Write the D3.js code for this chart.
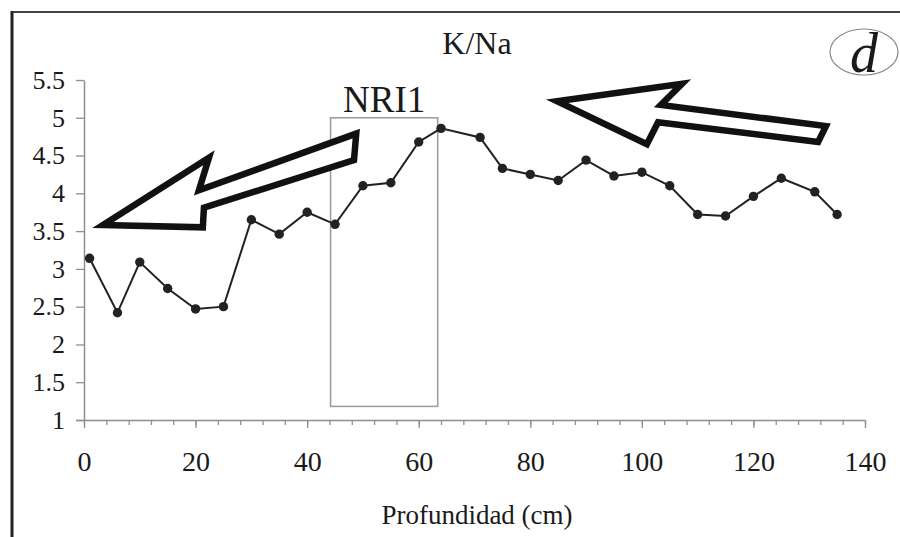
<!DOCTYPE html>
<html>
<head>
<meta charset="utf-8">
<script src="https://cdn.jsdelivr.net/npm/d3@7"></script>
<style>
  body { margin: 0; background: #fff; }
  text { font-family: "Liberation Serif", "DejaVu Serif", serif; fill: #1a1a1a; }
</style>
</head>
<body>
<div id="chart"></div>
<script>
// Depth (cm) and K/Na ratio
const depth = [1, 6, 10, 15, 20, 25, 30, 35, 40, 45, 50, 55, 60, 64, 71, 75, 80, 85, 90, 95, 100, 105, 110, 115, 120, 125, 131, 135];
const kna   = [3.14, 2.42, 3.09, 2.74, 2.47, 2.50, 3.65, 3.46, 3.75, 3.59, 4.10, 4.14, 4.68, 4.86, 4.74, 4.33, 4.25, 4.17, 4.44, 4.23, 4.28, 4.10, 3.72, 3.70, 3.96, 4.20, 4.02, 3.72];

const xTicks = [0, 20, 40, 60, 80, 100, 120, 140];
const yTicks = [1, 1.5, 2, 2.5, 3, 3.5, 4, 4.5, 5, 5.5];

// NRI1 box, in data units
const nriBox = [44.2, 63.4, 1.18, 5.0];

// hollow arrows, vertices in data units (depth, K/Na)
const arrowLeft  = [[3.4, 3.58], [22.4, 4.47], [20.6, 4.04], [48.8, 4.79], [48.4, 4.44], [21.5, 3.81], [21.3, 3.55]];
const arrowRight = [[84.8, 5.22], [107.2, 5.45], [103.4, 5.17], [133.0, 4.89], [131.6, 4.68], [102.9, 4.94], [100.9, 4.65]];

const width = 900, height = 537;

const svg = d3.select("#chart").append("svg")
    .attr("width", width)
    .attr("height", height);

// frame (only top and left edges show)
svg.append("line")
    .attr("x1", 11).attr("y1", 12).attr("x2", width).attr("y2", 12)
    .attr("stroke", "#444").attr("stroke-width", 2);
svg.append("line")
    .attr("x1", 12).attr("y1", 11).attr("x2", 12).attr("y2", height)
    .attr("stroke", "#222").attr("stroke-width", 3);

const x = d3.scaleLinear().domain([0, 140]).range([84, 865]);
const y = d3.scaleLinear().domain([1, 5.5]).range([420, 80]);

const axisColor = "#8f8f8f";

// minor x ticks every 4 cm
svg.append("g")
    .attr("transform", `translate(0,${y(1)})`)
    .call(d3.axisBottom(x).tickValues(d3.range(0, 141, 4)).tickSize(5).tickFormat(""))
    .call(g => g.select(".domain").remove())
    .call(g => g.selectAll("line").attr("stroke", axisColor).attr("stroke-width", 1.3));

const xAxis = svg.append("g")
    .attr("transform", `translate(0,${y(1)})`)
    .call(d3.axisBottom(x).tickValues(xTicks).tickSize(8).tickPadding(23).tickSizeOuter(0));
xAxis.select(".domain").attr("stroke", axisColor).attr("stroke-width", 1.5)
    .attr("d", `M${x(0) - 8},0.5H${x(140)}`);
xAxis.selectAll("line").attr("stroke", axisColor).attr("stroke-width", 1.3);
xAxis.selectAll("text").style("font-size", "28px").attr("fill", "#1a1a1a");

const yAxis = svg.append("g")
    .attr("transform", `translate(${x(0)},0)`)
    .call(d3.axisLeft(y).tickValues(yTicks).tickSize(8).tickPadding(11).tickSizeOuter(0)
        .tickFormat(d => String(d)));
yAxis.select(".domain").attr("stroke", axisColor).attr("stroke-width", 1.5);
yAxis.selectAll("line").attr("stroke", axisColor).attr("stroke-width", 1.3);
yAxis.selectAll("text").style("font-size", "26px").attr("fill", "#1a1a1a");

// NRI1 box
svg.append("rect")
    .attr("x", x(nriBox[0]))
    .attr("y", y(nriBox[3]))
    .attr("width", x(nriBox[1]) - x(nriBox[0]))
    .attr("height", y(nriBox[2]) - y(nriBox[3]))
    .attr("fill", "none")
    .attr("stroke", "#9a9a9a")
    .attr("stroke-width", 1.5);

svg.append("text")
    .attr("x", (x(nriBox[0]) + x(nriBox[1])) / 2)
    .attr("y", 112)
    .attr("text-anchor", "middle")
    .style("font-size", "37px")
    .text("NRI1");

// arrows
const arrowLine = d3.line().x(d => x(d[0])).y(d => y(d[1])).curve(d3.curveLinearClosed);
svg.selectAll(".arrow")
    .data([arrowLeft, arrowRight])
    .enter().append("path")
    .attr("class", "arrow")
    .attr("d", arrowLine)
    .attr("fill", "#fff")
    .attr("stroke", "#111")
    .attr("stroke-width", 6.5)
    .attr("stroke-linejoin", "miter")
    .attr("stroke-miterlimit", 10);

// data line + markers
const pts = depth.map((d, i) => [d, kna[i]]);
svg.append("path")
    .datum(pts)
    .attr("d", d3.line().x(d => x(d[0])).y(d => y(d[1])))
    .attr("fill", "none")
    .attr("stroke", "#222")
    .attr("stroke-width", 2);

svg.selectAll(".pt")
    .data(pts)
    .enter().append("circle")
    .attr("class", "pt")
    .attr("cx", d => x(d[0]))
    .attr("cy", d => y(d[1]))
    .attr("r", 4.7)
    .attr("fill", "#222");

// title
svg.append("text")
    .attr("x", 477)
    .attr("y", 54)
    .attr("text-anchor", "middle")
    .style("font-size", "32px")
    .text("K/Na");

// panel letter
svg.append("ellipse")
    .attr("cx", 864).attr("cy", 52)
    .attr("rx", 34).attr("ry", 23)
    .attr("fill", "none")
    .attr("stroke", "#888")
    .attr("stroke-width", 1.2);
svg.append("text")
    .attr("x", 864)
    .attr("y", 72)
    .attr("text-anchor", "middle")
    .style("font-size", "56px")
    .style("font-style", "italic")
    .text("d");

// x-axis title
svg.append("text")
    .attr("x", 477)
    .attr("y", 524)
    .attr("text-anchor", "middle")
    .style("font-size", "27px")
    .text("Profundidad (cm)");
</script>
</body>
</html>
